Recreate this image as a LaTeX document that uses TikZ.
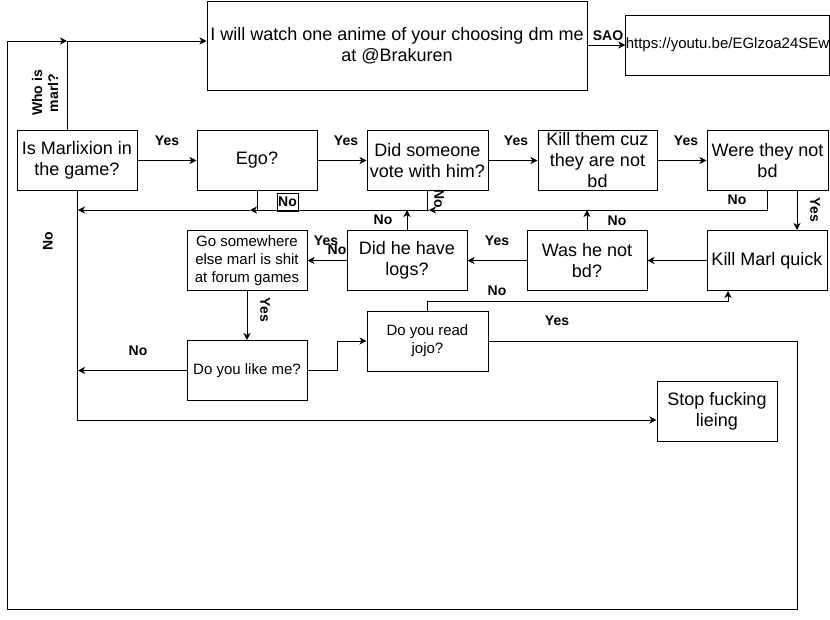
\documentclass[tikz,border=0pt]{standalone}
\usepackage{fontspec}
\setmainfont{Liberation Sans}
\usetikzlibrary{arrows.meta}
\begin{document}
\begin{tikzpicture}[x=1pt,y=-1pt,
  box/.style={draw, line width=1pt, inner sep=0pt, align=center, minimum width=120pt, minimum height=60pt, font=\fontsize{18}{21}\selectfont},
  small/.style={font=\fontsize{15}{18}\selectfont},
  arr/.style={line width=1pt, -{Stealth[length=7pt,width=7pt,inset=2pt]}},
  ln/.style={line width=1pt},
  lbl/.style={font=\bfseries\fontsize{14}{16}\selectfont, inner sep=0pt}
]
\useasboundingbox (0,0) rectangle (830,619);

% boxes
\node[box, minimum width=380pt, minimum height=89pt] (top) at (397,45.5) {I will watch one anime of your choosing dm me\\at @Brakuren};
\node[box, small, minimum width=201pt] (url) at (727.5,45) {https://youtu.be/EGlzoa24SEw};
\node[box] (marl) at (77,160.5) {Is Marlixion in\\the game?};
\node[box] (ego) at (257,160.5) {Ego?};
\node[box, minimum width=121pt] (did) at (427.5,160.5) {Did someone\\vote with him?};
\node[box, minimum width=119pt] (kt) at (597.5,160.5) {Kill them cuz\\they are not\\bd};
\node[box, minimum width=121pt] (were) at (767.5,160.5) {Were they not\\bd};
\node[box] (km) at (767,260.5) {Kill Marl quick};
\node[box] (was) at (587,260.5) {Was he not\\bd?};
\node[box] (logs) at (407,260.5) {Did he have\\logs?};
\node[box, small] (go) at (247,260.5) {Go somewhere\\else marl is shit\\at forum games};
\node[box, small] (like) at (247,370.5) {Do you like me?};
\node[box, small, minimum width=121pt] (jojo) at (427.5,341) {Do you read\\jojo?};
\node[box] (stop) at (717,411) {Stop fucking\\lieing};

% helper coordinates
\coordinate (j41) at (67,41);
\coordinate (n1) at (429,210);
\coordinate (n2) at (250,210);
\coordinate (n3) at (78,210);
\coordinate (wasup) at (587,210);
\coordinate (logsup) at (407,210);
\coordinate (likeleft) at (78,370.5);

% connectors
\draw[arr] (marl) -- (ego);
\draw[arr] (ego) -- (did);
\draw[arr] (did) -- (kt);
\draw[arr] (kt) -- (were);
\draw[arr] (url.west -| top.east) -- (url.west);
\draw[arr] ([xshift=-10pt]marl.north) |- ([yshift=4.5pt]top.west);
\draw[arr] ([xshift=29.5pt]were.south) -- ([xshift=30pt]km.north);
\draw[arr] (km) -- (was);
\draw[arr] (was) -- (logs);
\draw[arr] (logs) -- (go);
\draw[arr] (go) -- (like);
\draw[arr] (was.north) -- (wasup);
\draw[arr] (logs.north) -- (logsup);
\draw[arr] (like.east) -- ++(30,0) |- (jojo.west);
\draw[arr] (like.west) -- (likeleft);
\draw[arr] (jojo.north) |- ([xshift=-39pt,yshift=-10pt]km.south) -- ([xshift=-39pt]km.south);
\draw[arr] (marl.south) |- ([yshift=-9pt]stop.west);
\draw[arr] (were.south) |- (n1);
\draw[arr] (n1) -- (n2);
\draw[arr] (n2) -- (n3);
\draw[ln] (ego.south) -- (ego.south |- n2);
\draw[ln] (did.south) -- (did.south |- n1);
\draw[arr] (jojo.east) -| (797,609) -| (7,41) -- (j41);

% labels
\node[lbl] (l1) at (167,141) {Yes};
\node[lbl] (l2) at (346,141) {Yes};
\node[lbl] (l3) at (516,141) {Yes};
\node[lbl] (l4) at (686,141) {Yes};
\node[lbl] (l5) at (608,36) {SAO};
\node[lbl, rotate=90, align=center, font=\bfseries\fontsize{14}{16}\selectfont] (l6) at (45,93) {Who is\\marl?};
\node[lbl, rotate=90] (l7) at (48,241) {No};
\node[lbl, draw, line width=1pt, minimum width=21pt, minimum height=18pt] (l8) at (287.5,202) {No};
\node[lbl, rotate=-90] (l9) at (439,199) {No};
\node[lbl] (l10) at (737,200) {No};
\node[lbl, rotate=-90] (l11) at (815,210) {Yes};
\node[lbl] (l12) at (383,220) {No};
\node[lbl] (l13) at (617,221) {No};
\node[lbl] (l14) at (497,241) {Yes};
\node[lbl] (l15) at (326,241) {Yes};
\node[lbl] (l16) at (337,250) {No};
\node[lbl, rotate=-90] (l17) at (265,310) {Yes};
\node[lbl] (l18) at (138,351) {No};
\node[lbl] (l19) at (497,291) {No};
\node[lbl] (l20) at (557,321) {Yes};
\end{tikzpicture}
\end{document}
